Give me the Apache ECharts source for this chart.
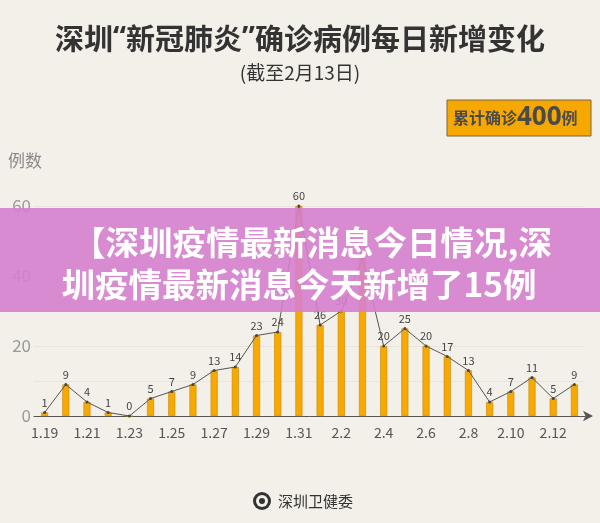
<!DOCTYPE html>
<html><head><meta charset="utf-8">
<script src="https://cdn.jsdelivr.net/npm/echarts@6/dist/echarts.min.js"></script>
<style>html,body{margin:0;padding:0;background:#F3EFE9;}#c{width:600px;height:523px;}</style>
</head><body><div id="c"></div>
<script>
const categories = ['1.19','1.20','1.21','1.22','1.23','1.24','1.25','1.26','1.27','1.28','1.29','1.30','1.31','2.1','2.2','2.3','2.4','2.5','2.6','2.7','2.8','2.9','2.10','2.11','2.12','2.13'];
const newCases = [1,9,4,1,0,5,7,9,13,14,23,24,60,26,30,45,20,25,20,17,13,4,7,11,5,9];
const yTicks = [0,20,40,60];

const FONT = '"Noto Sans CJK SC","Noto Sans",sans-serif';
const chart = echarts.init(document.getElementById('c'));
chart.setOption({
  backgroundColor: '#F3EFE9',
  animation: false,
  textStyle: {fontFamily: FONT},
  grid: {left: 34, right: 15, top: 206, bottom: 107},
  xAxis: {
    type: 'category', data: categories, boundaryGap: true,
    axisLine: {lineStyle: {color: '#555', width: 1}, symbol: ['none','arrow'], symbolSize: [8, 10], symbolOffset: [0, 8]},
    axisTick: {show: false},
    axisLabel: {interval: 1, color: '#555', fontSize: 14, margin: 10, fontFamily: FONT}
  },
  yAxis: {
    type: 'value', min: 0, max: 60, interval: 10,
    axisLine: {show: false}, axisTick: {show: false},
    splitLine: {lineStyle: {color: '#E9E4DC', width: 1}},
    axisLabel: {color: '#9a9a9a', fontSize: 17, margin: 3, fontFamily: FONT,
      formatter: v => yTicks.indexOf(v) >= 0 ? String(v) : ''}
  },
  series: [
    {type: 'bar', data: newCases, barWidth: 7,
     itemStyle: {color: '#F7A900', borderColor: '#C88700', borderWidth: 0.6}},
    {type: 'line', data: newCases, symbol: 'circle', symbolSize: 3,
     lineStyle: {color: '#555', width: 1}, itemStyle: {color: '#444'},
     label: {show: true, position: 'top', distance: 3, color: '#444', fontSize: 11, fontFamily: FONT}}
  ],
  graphic: [
    {type: 'text', left: 'center', top: 24, z: 10, style: {
      rich: {a: {font: 'bold 29px ' + FONT, fill: '#333'}, q: {font: 'bold 29px "Noto Sans",sans-serif', fill: '#333'}},
      text: '{a|深圳}{q|“}{a|新冠肺炎}{q|”}{a|确诊病例每日新增变化}'}},
    {type: 'text', left: 'center', top: 63, z: 10, style: {text: '(截至2月13日)', font: '19px ' + FONT, fill: '#333'}},
    {type: 'rect', shape: {x: 447, y: 100, width: 144, height: 36}, z: 10, style: {fill: '#F6A800', stroke: '#7d6740', lineWidth: 1}},
    {type: 'text', x: 453, y: 118, z: 11, style: {rich: {a: {font: 'bold 16px ' + FONT, fill: '#4a4a4a'}, b: {font: 'bold 26px "Open Sans",sans-serif', fill: '#4a4a4a'}}, text: '{a|累计确诊}{b|400}{a|例}', verticalAlign: 'middle'}},
    {type: 'text', x: 8, y: 152, z: 10, style: {text: '例数', font: '17px ' + FONT, fill: '#8a8a8a'}},
    {type: 'rect', shape: {x: 0, y: 208, width: 600, height: 104}, z: 100, style: {fill: 'rgba(214,128,206,0.9)'}},
    {type: 'text', x: 312, y: 242, z: 101, style: {text: '【深圳疫情最新消息今日情况,深', font: 'bold 33.5px ' + FONT, fill: '#fff', align: 'center', verticalAlign: 'middle'}},
    {type: 'text', x: 299, y: 284, z: 101, style: {text: '圳疫情最新消息今天新增了15例', font: 'bold 33.5px ' + FONT, fill: '#fff', align: 'center', verticalAlign: 'middle'}},
    {type: 'circle', shape: {cx: 262, cy: 501, r: 9}, z: 10, style: {fill: '#333'}},
    {type: 'circle', shape: {cx: 262, cy: 501, r: 6}, z: 11, style: {fill: '#F3EFE9'}},
    {type: 'circle', shape: {cx: 262, cy: 501, r: 3}, z: 12, style: {fill: '#333'}},
    {type: 'text', x: 278, y: 501, z: 10, style: {text: '深圳卫健委', font: '15px ' + FONT, fill: '#333', verticalAlign: 'middle'}}
  ]
});
</script></body></html>
